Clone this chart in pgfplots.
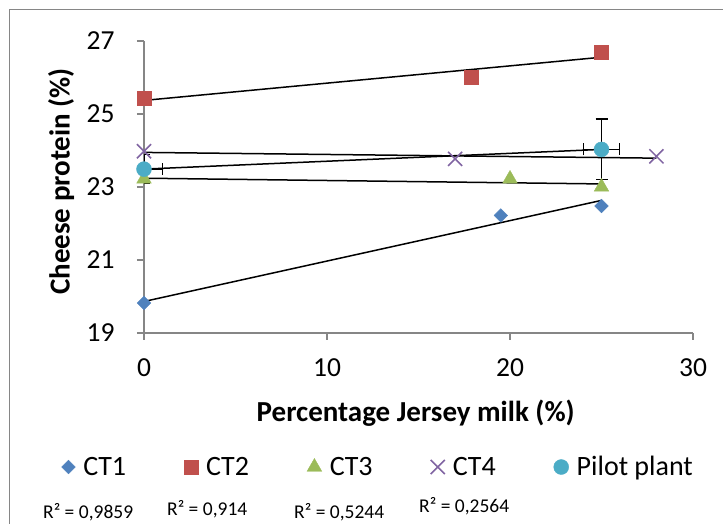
\documentclass[border=0pt]{standalone}
\usepackage{pgfplots}
\usepackage{pgfplotstable}
\pgfplotsset{compat=1.18}
\usepackage{fontspec}
\setmainfont{Carlito}
\definecolor{cA}{HTML}{4F81BD}
\definecolor{cB}{HTML}{C0504D}
\definecolor{cC}{HTML}{9BBB59}
\definecolor{cD}{HTML}{8064A2}
\definecolor{cE}{HTML}{4BACC6}
\definecolor{axgray}{HTML}{868686}

\pgfplotstableread{
x y
0 19.82
19.5 22.22
25 22.48
}\ctone
\pgfplotstableread{
x y
0 25.43
17.9 26.02
25 26.70
}\cttwo
\pgfplotstableread{
x y
0 23.22
20 23.22
25 23.00
}\ctthree
\pgfplotstableread{
x y
0 23.98
17 23.77
28 23.84
}\ctfour
\pgfplotstableread{
x y ex ey
0 23.49 1 0.4
25 24.03 1 0.83
}\pilot

\begin{document}
\begin{tikzpicture}[x=1pt,y=1pt]
\path[use as bounding box] (0,0) rectangle (723,524);
\draw[axgray, line width=1pt] (9,-5) -- (9,514) -- (730,514);
\begin{axis}[
  at={(144pt,191pt)}, anchor=south west,
  scale only axis, width=549pt, height=292pt,
  xmin=0, xmax=30, ymin=19, ymax=27,
  xtick={0,10,20,30}, ytick={19,21,23,25,27},
  axis x line*=bottom, axis y line*=left,
  axis line style={axgray, line width=1.3pt},
  tick style={axgray, line width=1.3pt},
  tick align=outside, major tick length=7pt,
  /pgf/number format/assume math mode=true,
  ticklabel style={font=\fontsize{27.5}{30}\selectfont, text=black},
  yticklabel style={xshift=-19pt},
  xticklabel style={yshift=-15pt},
  xlabel={\textbf{Percentage Jersey milk (\%)}},
  ylabel={\textbf{Cheese protein (\%)}},
  every axis x label/.style={at={(axis description cs:0.495,-0.274)}, anchor=center, font=\fontsize{29}{32}\selectfont},
  every axis y label/.style={at={(axis description cs:-0.151,0.519)}, anchor=center, rotate=90, font=\fontsize{29}{32}\selectfont},
  legend columns=5,
  legend style={draw=none, fill=none, inner xsep=0pt, at={(-0.1503,-0.459)}, anchor=west,
    font=\fontsize{28}{31}\selectfont,
    /tikz/every odd column/.append style={column sep=6pt},
    /tikz/every even column/.append style={column sep=56pt}},
  legend cell align=left,
]
\addplot[only marks, mark=square*, mark options={rotate=45, fill=cA, draw=cA}, mark size=4.8pt] table[x=x,y=y] {\ctone};
\addlegendentry{CT1}
\addplot[only marks, mark=square*, mark options={fill=cB, draw=cB}, mark size=7pt] table[x=x,y=y] {\cttwo};
\addlegendentry{CT2}
\addplot[only marks, mark=triangle*, mark options={fill=cC, draw=cC}, mark size=8.5pt] table[x=x,y=y] {\ctthree};
\addlegendentry{CT3}
\addplot[only marks, mark=x, mark options={draw=cD, line width=1.5pt}, mark size=10pt] table[x=x,y=y] {\ctfour};
\addlegendentry{CT4}
\addplot[only marks, mark=*, mark options={fill=cE, draw=cE}, mark size=7.5pt,
  error bars/.cd, x dir=both, x explicit, y dir=both, y explicit,
  error bar style={black, line width=1.3pt},
  error mark options={black, line width=1.3pt, mark size=6pt, rotate=90}]
  table[x=x,y=y,x error=ex,y error=ey] {\pilot};
\addlegendentry{Pilot plant}
\addplot[black, line width=1.5pt, forget plot] table[x=x, y={create col/linear regression={y=y}}] {\ctone};
\addplot[black, line width=1.5pt, forget plot] table[x=x, y={create col/linear regression={y=y}}] {\cttwo};
\addplot[black, line width=1.5pt, forget plot] table[x=x, y={create col/linear regression={y=y}}] {\ctthree};
\addplot[black, line width=1.5pt, forget plot] table[x=x, y={create col/linear regression={y=y}}] {\ctfour};
\addplot[black, line width=1.5pt, forget plot] table[x=x, y={create col/linear regression={y=y}}] {\pilot};
\end{axis}
\begin{scope}[font=\fontsize{19.5}{22}\selectfont]
\node[anchor=west, inner sep=0] at (43,12) {R² = 0,9859};
\node[anchor=west, inner sep=0] at (167,14.5) {R² = 0,914};
\node[anchor=west, inner sep=0] at (294,12) {R² = 0,5244};
\node[anchor=west, inner sep=0] at (419,17.5) {R² = 0,2564};
\end{scope}
\end{tikzpicture}
\end{document}
